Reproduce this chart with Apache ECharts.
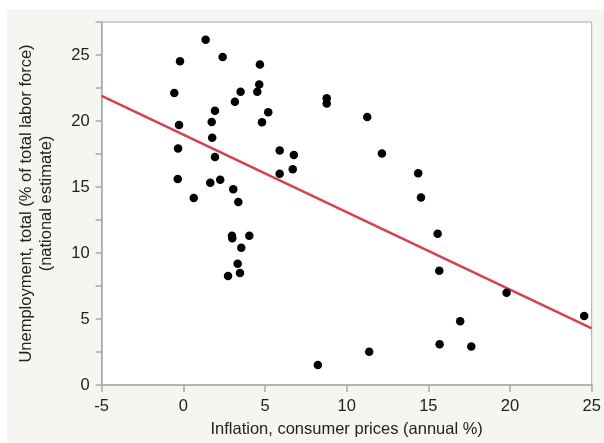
<!DOCTYPE html>
<html>
<head>
<meta charset="utf-8">
<script src="https://cdn.jsdelivr.net/npm/echarts@6/dist/echarts.min.js"></script>
<style>
  html, body { margin: 0; padding: 0; background: #fff; }
  .wrap { position: relative; width: 604px; height: 443px; }
  .panel { position: absolute; left: 7px; top: 9px; right: 0; bottom: 0; background: #f5f5f1; }
  #chart { position: absolute; left: 0; top: 0; width: 604px; height: 443px; }
</style>
</head>
<body>
<div class="wrap">
  <div class="panel"></div>
  <div id="chart"></div>
</div>
<script>
  // inflation (annual %) vs unemployment (% of labor force)
  var inflation = [
    1.37, -0.20, 2.41, 4.69, -0.55, 4.65, 3.51, 4.53, 8.78, 8.78,
    3.16, 1.94, 5.20, 1.74, 4.82, -0.26, 1.77, -0.32, 5.90, 6.77,
    1.94, 5.90, 6.70, -0.34, 1.65, 2.26, 3.06, 0.64, 3.37, 2.98,
    3.00, 4.04, 3.55, 3.33, 3.47, 2.74, 8.24, 11.26, 12.16, 14.38,
    14.55, 15.57, 15.67, 19.79, 24.54, 16.95, 15.69, 17.63, 11.38
  ];
  var unemployment = [
    26.15, 24.53, 24.85, 24.28, 22.12, 22.76, 22.22, 22.22, 21.72, 21.33,
    21.45, 20.78, 20.67, 19.93, 19.90, 19.70, 18.73, 17.91, 17.76, 17.42,
    17.27, 16.00, 16.34, 15.60, 15.33, 15.55, 14.83, 14.16, 13.86, 11.30,
    11.12, 11.30, 10.40, 9.18, 8.49, 8.26, 1.52, 20.30, 17.54, 16.04,
    14.21, 11.45, 8.66, 6.99, 5.22, 4.83, 3.09, 2.91, 2.51
  ];
  // fitted line: unemployment = intercept + slope * inflation
  var fitIntercept = 18.97;
  var fitSlope = -0.587;

  var xRange = [-5, 25];
  var yRange = [0, 27.5];

  var points = inflation.map(function(v, i) { return [v, unemployment[i]]; });
  var fitData = xRange.map(function(x) { return [x, fitIntercept + fitSlope * x]; });

  var axisColor = "#a9a9a9";
  var labelColor = "#222";
  var font = "'Liberation Sans', Arial, Helvetica, sans-serif";

  var mychart = echarts.init(document.getElementById("chart"));
  var option = {
    backgroundColor: "transparent",
    animation: false,
    grid: {
      left: 101.6,
      right: 12.3,
      top: 22,
      bottom: 51,
      show: true,
      backgroundColor: "#fff",
      borderColor: axisColor,
      borderWidth: 1
    },
    xAxis: {
      type: "value",
      min: xRange[0],
      max: xRange[1],
      interval: 5,
      name: "Inflation, consumer prices (annual %)",
      nameLocation: "middle",
      nameGap: 36,
      nameTextStyle: { color: labelColor, fontSize: 16.5, fontFamily: font },
      axisLine: { show: true, onZero: false, lineStyle: { color: axisColor, width: 1.5 } },
      axisTick: { show: true, length: 7, lineStyle: { color: axisColor, width: 1.5 } },
      axisLabel: { color: labelColor, fontSize: 16.5, fontFamily: font, margin: 13 },
      splitLine: { show: false }
    },
    yAxis: {
      type: "value",
      min: yRange[0],
      max: yRange[1],
      interval: 2.5,
      name: "Unemployment, total (% of total labor force)\n(national estimate)",
      nameLocation: "middle",
      nameGap: 45,
      nameTextStyle: { color: labelColor, fontSize: 16.5, fontFamily: font, lineHeight: 20, align: "center" },
      axisLine: { show: true, onZero: false, lineStyle: { color: axisColor, width: 1.5 } },
      axisTick: { show: true, length: 6, lineStyle: { color: axisColor, width: 1.5 } },
      axisLabel: {
        color: labelColor,
        fontSize: 16.5,
        fontFamily: font,
        margin: 12,
        formatter: function(v) { return v % 5 === 0 ? String(v) : ""; }
      },
      splitLine: { show: false }
    },
    series: [
      {
        type: "line",
        data: fitData,
        showSymbol: false,
        symbol: "none",
        lineStyle: { color: "#d6404f", width: 2.5 },
        z: 2
      },
      {
        type: "scatter",
        data: points,
        symbolSize: 8.5,
        itemStyle: { color: "#000", opacity: 1 },
        z: 3
      }
    ]
  };
  mychart.setOption(option);
</script>
</body>
</html>
